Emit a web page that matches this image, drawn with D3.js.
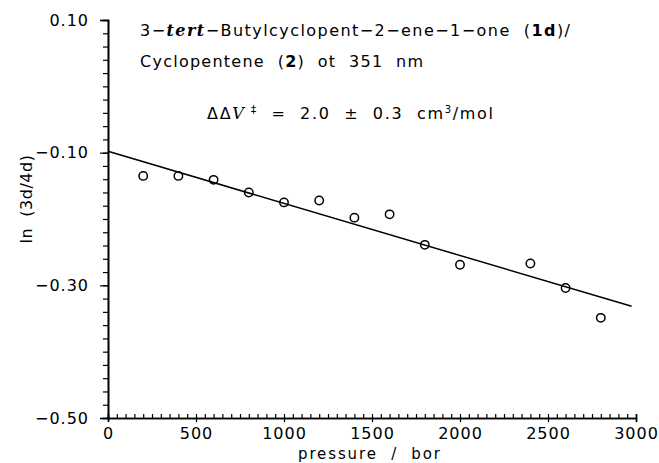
<!DOCTYPE html>
<html>
<head>
<meta charset="utf-8">
<script src="https://cdn.jsdelivr.net/npm/d3@7"></script>
<style>
  body { margin: 0; background: #fff; }
  svg { display: block; }
  text { font-family: "DejaVu Sans", sans-serif; fill: #000; white-space: pre; }
</style>
</head>
<body>
<svg id="chart" width="659" height="463"></svg>
<script>
// measured points
const pressure = [200, 400, 600, 800, 1000, 1200, 1400, 1600, 1800, 2000, 2400, 2600, 2800];
const lnRatio = [-0.135, -0.135, -0.141, -0.160, -0.175, -0.172, -0.198, -0.193, -0.239, -0.269, -0.267, -0.304, -0.349];

// linear fit
const fitIntercept = -0.098;
const fitSlope = -7.85e-5;
const fitRange = [0, 2975];

const xTicks = [0, 500, 1000, 1500, 2000, 2500, 3000];
const yTicks = [0.10, -0.10, -0.30, -0.50];

const svg = d3.select('#chart');
const mLeft = 108, mRight = 636, mTop = 20, mBottom = 418;

const x = d3.scaleLinear().domain([0, 3000]).range([mLeft, mRight]);
const y = d3.scaleLinear().domain([-0.5, 0.1]).range([mBottom, mTop]);

// x axis: minor ticks inside (up), major ticks outside (down)
const xAxis = svg.append('g').attr('transform', `translate(0,${mBottom})`);
xAxis.call(d3.axisTop(x).tickValues(d3.range(0, 3001, 50)).tickSize(4).tickFormat(''));
xAxis.append('g').call(d3.axisBottom(x).tickValues(xTicks).tickSize(4).tickPadding(4).tickFormat(d3.format('d')));

// y axis: ticks outside (left)
const yAxis = svg.append('g').attr('transform', `translate(${mLeft},0)`);
yAxis.call(d3.axisLeft(y).tickValues(d3.range(-0.5, 0.1001, 0.02)).tickSize(5).tickFormat(''));
yAxis.append('g').call(d3.axisLeft(y).tickValues(yTicks).tickSize(8).tickPadding(11).tickFormat(d3.format('.2f')));

svg.selectAll('.domain').attr('stroke', '#000').attr('stroke-width', 1.6);
svg.selectAll('.tick line').attr('stroke', '#000').attr('stroke-width', 1.2);
svg.selectAll('.tick text')
    .style('font-size', '16px')
    .style('letter-spacing', '1px')
    .text(function () { return d3.select(this).text().replace('-', '\u2212'); });
xAxis.selectAll('.tick text').attr('dy', '0.82em');

// fit line
const fit = fitRange.map(p => [p, fitIntercept + fitSlope * p]);
svg.append('path')
    .attr('d', d3.line().x(d => x(d[0])).y(d => y(d[1]))(fit))
    .attr('fill', 'none')
    .attr('stroke', '#000')
    .attr('stroke-width', 1.5);

// points
svg.selectAll('circle')
    .data(pressure.map((p, i) => [p, lnRatio[i]]))
    .enter().append('circle')
    .attr('cx', d => x(d[0]))
    .attr('cy', d => y(d[1]))
    .attr('r', 4.2)
    .attr('fill', 'none')
    .attr('stroke', '#000')
    .attr('stroke-width', 1.5);

// axis labels
svg.append('text')
    .attr('x', 298).attr('y', 459)
    .style('font-size', '15px')
    .attr('textLength', 142).attr('lengthAdjust', 'spacing')
    .text('pressure  /  bor');

svg.append('text')
    .attr('transform', 'translate(32,199) rotate(-90)')
    .attr('text-anchor', 'middle')
    .style('font-size', '16px')
    .style('letter-spacing', '0.5px')
    .text('ln  (3d/4d)');

// annotation
const t1 = svg.append('text').attr('x', 140).attr('y', 36).style('font-size', '16px')
    .attr('textLength', 430).attr('lengthAdjust', 'spacing');
t1.append('tspan').text('3\u2212');
t1.append('tspan').text('tert').style('font-family', '"DejaVu Serif", serif').style('font-weight', 'bold').style('font-style', 'italic');
t1.append('tspan').text('\u2212Butylcyclopent\u22122\u2212ene\u22121\u2212one  (');
t1.append('tspan').text('1d').style('font-weight', 'bold');
t1.append('tspan').text(')/');

const t2 = svg.append('text').attr('x', 140).attr('y', 67).style('font-size', '16px')
    .attr('textLength', 283).attr('lengthAdjust', 'spacing');
t2.append('tspan').text('Cyclopentene  (');
t2.append('tspan').text('2').style('font-weight', 'bold');
t2.append('tspan').text(')  ot  351  nm');

const t3 = svg.append('text').attr('x', 207).attr('y', 119).style('font-size', '16px')
    .attr('textLength', 286).attr('lengthAdjust', 'spacing');
t3.append('tspan').text('\u0394\u0394');
t3.append('tspan').text('V').style('font-family', '"DejaVu Serif", serif').style('font-style', 'italic');
t3.append('tspan').text(' \u2021').attr('dy', -6).style('font-size', '11px');
t3.append('tspan').text('  =  2.0  \u00b1  0.3  cm').attr('dy', 6);
t3.append('tspan').text('3').attr('dy', -6).style('font-size', '10px');
t3.append('tspan').text('/mol').attr('dy', 6);
</script>
</body>
</html>
